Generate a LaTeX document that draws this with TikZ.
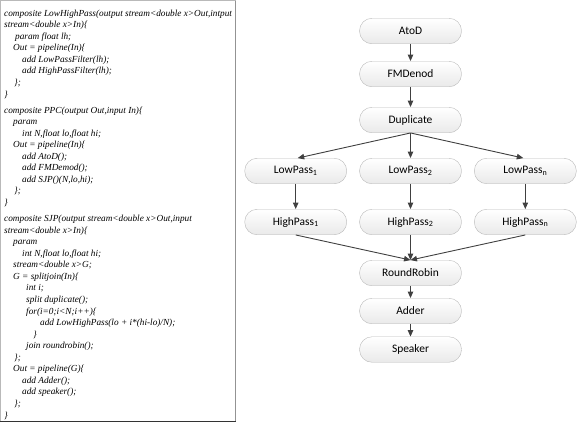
\documentclass[tikz,border=0pt]{standalone}
\usepackage{fontspec}
\setmainfont{Liberation Serif}
\newfontfamily\calibri{Carlito}
\usetikzlibrary{arrows.meta}

\tikzset{
	block/.style={draw=gray!55, rounded corners=12.5bp, top color=white, bottom color=gray!17,
		minimum width=102bp, minimum height=25.5bp, inner sep=0pt,
		font=\calibri\fontsize{11.5}{13}\selectfont},
	flow/.style={draw=black!75, line width=0.9bp, -{Triangle[length=6.5bp,width=5.5bp]}},
	listing/.style={anchor=north west, align=left, inner sep=0pt,
		font=\itshape\fontsize{9.3}{11.6}\selectfont},
}

\begin{document}
\begin{tikzpicture}[x=1bp,y=-1bp]
			\useasboundingbox (0,0) rectangle (579,423);
			% the code box
			\draw[gray!55, line width=1bp] (0.5,0.5) rectangle (235,421.5);
			\draw[gray!85, line width=1bp] (235,0.5) -- (235,421.5);
			\draw[black!80, line width=1.2bp] (0.5,421.5) -- (235.5,421.5);
			\node[listing] (code) at (4,9.5) {%
				composite LowHighPass(output stream<double x>Out,intput\\
				stream<double x>In)\{\\
				\hspace*{11bp}param float lh;\\
				\hspace*{9bp}Out = pipeline(In)\{\\
				\hspace*{18bp}add LowPassFilter(lh);\\
				\hspace*{18bp}add HighPassFilter(lh);\\
				\hspace*{10bp}\};\\
				\}\\[4.5bp]
				composite PPC(output Out,input In)\{\\
				\hspace*{9bp}param\\
				\hspace*{18bp}int N,float lo,float hi;\\
				\hspace*{9bp}Out = pipeline(In)\{\\
				\hspace*{18bp}add AtoD();\\
				\hspace*{18bp}add FMDemod();\\
				\hspace*{18bp}add SJP()(N,lo,hi);\\
				\hspace*{10bp}\};\\
				\}\\[4.5bp]
				composite SJP(output stream<double x>Out,input\\
				stream<double x>In)\{\\
				\hspace*{9bp}param\\
				\hspace*{18bp}int N,float lo,float hi;\\
				\hspace*{9bp}stream<double x>G;\\
				\hspace*{9bp}G = splitjoin(In)\{\\
				\hspace*{22bp}int i;\\
				\hspace*{22bp}split duplicate();\\
				\hspace*{22bp}for(i=0;i<N;i++)\{\\
				\hspace*{36bp}add LowHighPass(lo + i*(hi-lo)/N);\\
				\hspace*{29bp}\}\\
				\hspace*{22bp}join roundrobin();\\
				\hspace*{10bp}\};\\
				\hspace*{9bp}Out = pipeline(G)\{\\
				\hspace*{18bp}add Adder();\\
				\hspace*{18bp}add speaker();\\
				\hspace*{10bp}\};\\
				\}};
			% the stream graph
			\node[block] (atod) at (410.5,31) {AtoD};
			\node[block] (fmdenod) at (410.5,74) {FMDenod};
			\node[block] (duplicate) at (410.5,120) {Duplicate};
			\node[block] (low1) at (295.7,171) {LowPass\textsubscript{1}};
			\node[block] (low2) at (410.5,171) {LowPass\textsubscript{2}};
			\node[block] (lown) at (525.3,171) {LowPass\textsubscript{n}};
			\node[block] (high1) at (295.7,222) {HighPass\textsubscript{1}};
			\node[block] (high2) at (410.5,222) {HighPass\textsubscript{2}};
			\node[block] (highn) at (525.3,222) {HighPass\textsubscript{n}};
			\node[block] (roundrobin) at (410.5,273) {RoundRobin};
			\node[block] (adder) at (410.5,311) {Adder};
			\node[block] (speaker) at (410.5,349.5) {Speaker};
			\draw[flow] (atod) -- (fmdenod);
			\draw[flow] (fmdenod) -- (duplicate);
			\draw[flow] (duplicate.south) -- ([xshift=2bp]low1.north);
			\draw[flow] (duplicate.south) -- (low2.north);
			\draw[flow] (duplicate.south) -- ([xshift=-2bp]lown.north);
			\draw[flow] (low1) -- (high1);
			\draw[flow] (low2) -- (high2);
			\draw[flow] (lown) -- (highn);
			\draw[flow] (high1.south) -- (roundrobin.north);
			\draw[flow] (high2.south) -- (roundrobin.north);
			\draw[flow] (highn.south) -- (roundrobin.north);
			\draw[flow] (roundrobin) -- (adder);
			\draw[flow] (adder) -- (speaker);
		\end{tikzpicture}
\end{document}
